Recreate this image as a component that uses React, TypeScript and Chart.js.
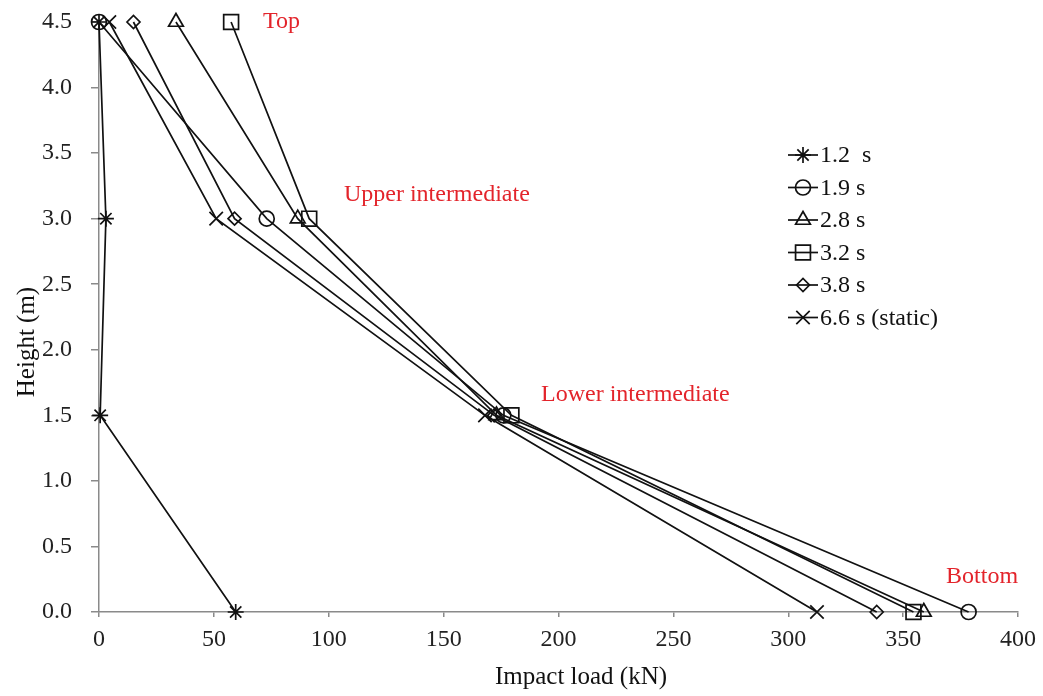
import React, { useEffect, useRef } from "react";
import { Chart, registerables } from "chart.js";
import { drawPoint } from "chart.js/helpers";

Chart.register(...registerables);

// Measurement heights (m)
const heights = [4.5, 3.0, 1.5, 0.0];

// Impact load (kN) at each height, per time instant
const load12 = [0, 3, 0.5, 59.5];
const load19 = [0, 73, 176, 378.5];
const load28 = [33.5, 86.5, 173, 359];
const load32 = [57.5, 91.5, 179.5, 354.5];
const load38 = [15, 59, 172, 338.5];
const load66 = [4.5, 51, 168, 312.5];

const seriesLabels = ["1.2  s", "1.9 s", "2.8 s", "3.2 s", "3.8 s", "6.6 s (static)"];
const seriesLoads = [load12, load19, load28, load32, load38, load66];
const seriesStyles = ["star", "circle", "triangle", "rect", "rectRot", "crossRot"];
const seriesRadius = [8, 7.5, 8.5, 10.5, 6.5, 9.5];

// Position labels along the height
const zoneLabels = ["Top", "Upper intermediate", "Lower intermediate", "Bottom"];
const zoneX = [71.4, 106.6, 192.4, 368.7];
const zoneY = [4.5, 3.18, 1.655, 0.267];

const xTicks = [0, 50, 100, 150, 200, 250, 300, 350, 400];
const yTicks = [0, 0.5, 1, 1.5, 2, 2.5, 3, 3.5, 4, 4.5];

const FONT = "'Liberation Serif', 'Times New Roman', serif";

const overlayPlugin = {
  id: "overlay",
  afterDraw(chart: any) {
    const ctx = chart.ctx;
    const xs = chart.scales.x;
    const ys = chart.scales.y;
    ctx.save();

    // zone labels
    ctx.fillStyle = "#e3242b";
    ctx.font = `24px ${FONT}`;
    ctx.textAlign = "left";
    ctx.textBaseline = "middle";
    zoneLabels.forEach((t, i) => {
      ctx.fillText(t, xs.getPixelForValue(zoneX[i]), ys.getPixelForValue(zoneY[i]));
    });

    // axis titles
    ctx.fillStyle = "#111";
    ctx.font = `25px ${FONT}`;
    ctx.textAlign = "center";
    ctx.fillText("Impact load (kN)", 581, 677);
    ctx.save();
    ctx.translate(27, 342);
    ctx.rotate(-Math.PI / 2);
    ctx.fillText("Height (m)", 0, 0);
    ctx.restore();

    // legend
    const lx = 788;
    const ly = 155;
    const step = 32.5;
    ctx.font = `24px ${FONT}`;
    ctx.textAlign = "left";
    seriesLabels.forEach((t, i) => {
      const y = ly + i * step;
      ctx.strokeStyle = "#111";
      ctx.lineWidth = 1.7;
      ctx.beginPath();
      ctx.moveTo(lx, y);
      ctx.lineTo(lx + 30, y);
      ctx.stroke();
      ctx.fillStyle = "rgba(0,0,0,0)";
      drawPoint(ctx, { pointStyle: seriesStyles[i], radius: seriesRadius[i], rotation: 0, borderWidth: 1.7 }, lx + 15, y);
      ctx.fillStyle = "#111";
      ctx.fillText(t, lx + 32, y + 1);
    });
    ctx.restore();
  },
};

export default function App() {
  const ref = useRef<HTMLCanvasElement | null>(null);

  useEffect(() => {
    if (!ref.current) return;
    const datasets = seriesLabels.map((label, i) => ({
      label,
      data: heights.map((h, j) => ({ x: seriesLoads[i][j], y: h })),
      showLine: true,
      borderColor: "#111",
      borderWidth: 1.7,
      pointStyle: seriesStyles[i],
      pointRadius: seriesRadius[i],
      pointBorderWidth: 1.7,
      pointBorderColor: "#111",
      pointBackgroundColor: "rgba(0,0,0,0)",
      clip: false as any,
    }));

    const chart = new Chart(ref.current, {
      type: "scatter",
      data: { datasets },
      plugins: [overlayPlugin],
      options: {
        responsive: false,
        animation: false,
        devicePixelRatio: 1,
        layout: { padding: { top: 22, right: 25, left: 0, bottom: 0 } },
        plugins: { legend: { display: false }, tooltip: { enabled: false } },
        scales: {
          x: {
            type: "linear",
            min: 0,
            max: 400,
            afterBuildTicks: (s: any) => {
              s.ticks = xTicks.map((v) => ({ value: v }));
            },
            afterFit: (s: any) => {
              s.height = 84;
              s.paddingLeft = 0;
              s.paddingRight = 0;
            },
            ticks: {
              color: "#222",
              font: { family: FONT, size: 24 },
              padding: 8,
              maxRotation: 0,
            },
            grid: { drawOnChartArea: false, drawTicks: true, tickLength: 5, color: "#8a8a8a", lineWidth: 1.5 },
            border: { display: true, color: "#8a8a8a", width: 1.5 },
          },
          y: {
            type: "linear",
            min: 0,
            max: 4.5,
            afterBuildTicks: (s: any) => {
              s.ticks = yTicks.map((v) => ({ value: v }));
            },
            afterFit: (s: any) => {
              s.width = 99;
              s.paddingTop = 0;
              s.paddingBottom = 0;
            },
            ticks: {
              color: "#222",
              font: { family: FONT, size: 24 },
              padding: 19,
              callback: (v: any) => Number(v).toFixed(1),
            },
            grid: { drawOnChartArea: false, drawTicks: true, tickLength: 8, color: "#8a8a8a", lineWidth: 1.5 },
            border: { display: true, color: "#8a8a8a", width: 1.5 },
          },
        },
      },
    });
    return () => chart.destroy();
  }, []);

  return (
    <div style={{ position: "fixed", left: 0, top: 0, width: 1043, height: 696, background: "#fff" }}>
      <canvas ref={ref} width={1043} height={696} />
    </div>
  );
}
